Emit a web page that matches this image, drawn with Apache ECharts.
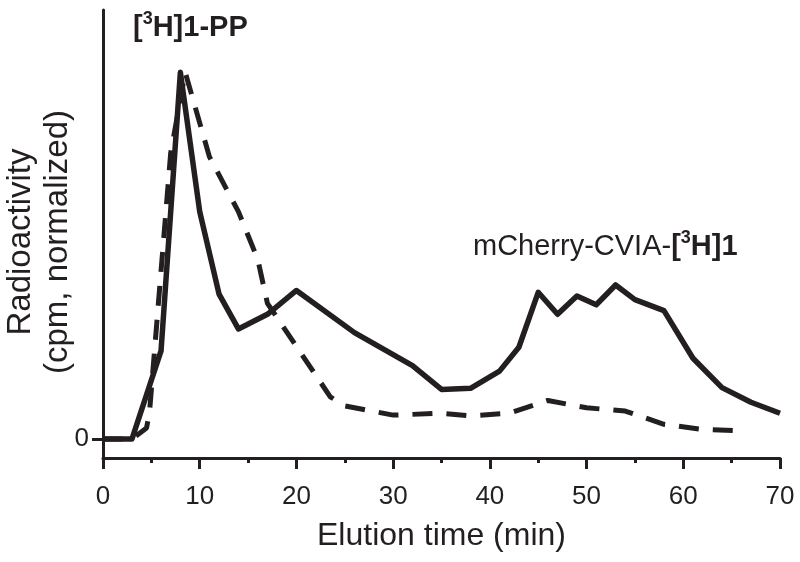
<!DOCTYPE html>
<html>
<head>
<meta charset="utf-8">
<script src="https://cdn.jsdelivr.net/npm/echarts@6/dist/echarts.min.js"></script>
<style>html,body{margin:0;padding:0;background:#fff}#c{width:800px;height:562px}</style>
</head>
<body>
<div id="c"></div>
<script>
// Elution time (min) and normalized radioactivity
const solidTime = [0, 3, 4.5, 6, 8, 10, 12, 14, 17, 20, 26, 32, 35, 38, 41, 43, 45, 47, 49, 51, 53, 55, 58, 61, 64, 67, 70];
const solidVal  = [0, 0, 0.12, 0.24, 1.0, 0.62, 0.395, 0.30, 0.34, 0.405, 0.29, 0.20, 0.135, 0.138, 0.185, 0.25, 0.40, 0.34, 0.39, 0.366, 0.42, 0.38, 0.35, 0.22, 0.14, 0.10, 0.07];
const dashTime = [0, 3, 4.5, 4.8, 7, 8.5, 11, 14, 16, 17, 23.5, 25, 30, 35, 38, 42, 46, 50, 54, 58, 62, 66];
const dashVal  = [0, 0, 0.03, 0.07, 0.78, 1.0, 0.77, 0.62, 0.49, 0.37, 0.115, 0.09, 0.065, 0.07, 0.063, 0.07, 0.105, 0.085, 0.076, 0.04, 0.026, 0.022];
const xTicks = [0, 10, 20, 30, 40, 50, 60, 70];
const yTicks = [0];
const xTitle = 'Elution time (min)';
const yTitle = 'Radioactivity\n(cpm, normalized)';

const ink = '#231f20';
const font = '"Liberation Sans", Arial, Helvetica, sans-serif';
const chart = echarts.init(document.getElementById('c'), null, {renderer: 'canvas'});
chart.setOption({
  animation: false,
  backgroundColor: '#fff',
  textStyle: {fontFamily: font, color: ink},
  grid: {left: 103, right: 20, top: 10, bottom: 104, containLabel: false, outerBoundsMode: 'none'},
  xAxis: {
    type: 'value', min: 0, max: 70, interval: 10,
    axisLine: {show: true, onZero: false, lineStyle: {color: ink, width: 3}},
    axisTick: {show: true, length: 11, lineStyle: {color: ink, width: 3}},
    minorTick: {show: true, splitNumber: 2, length: 5, lineStyle: {color: ink, width: 3}},
    splitLine: {show: false},
    axisLabel: {fontSize: 26, color: ink, margin: 26, fontFamily: font,
      customValues: xTicks, hideOverlap: false, showMaxLabel: true, showMinLabel: true},
    name: xTitle, nameLocation: 'middle', nameGap: 62,
    nameTextStyle: {fontSize: 32, color: ink, fontFamily: font}
  },
  yAxis: {
    type: 'value', min: -0.052, max: 1.17,
    axisLine: {show: true, onZero: false, lineStyle: {color: ink, width: 3}},
    axisTick: {show: true, length: 11, customValues: yTicks, lineStyle: {color: ink, width: 3}},
    splitLine: {show: false},
    axisLabel: {fontSize: 26, color: ink, margin: 14, fontFamily: font, customValues: yTicks}
  },
  series: [
    {
      type: 'line', name: 'solid', showSymbol: false, symbol: 'none',
      data: solidTime.map((t, i) => [t, solidVal[i]]),
      lineStyle: {color: ink, width: 5.5, join: 'round'}, z: 3
    },
    {
      type: 'line', name: 'dashed', showSymbol: false, symbol: 'none',
      data: dashTime.map((t, i) => [t, dashVal[i]]),
      lineStyle: {color: ink, width: 5, type: [20, 14]}, z: 2
    }
  ],
  graphic: [
    {
      type: 'text', x: 39, y: 242, rotation: Math.PI / 2,
      style: {
        text: yTitle, fill: ink, fontSize: 33, fontFamily: font, lineHeight: 37,
        align: 'center', verticalAlign: 'middle'
      }
    },
    {
      type: 'text', left: 133, top: 10,
      style: {
        text: '{b|[}{s|3}{b|H]1-PP}',
        rich: {
          b: {fontSize: 29, fontWeight: 'bold', fill: ink, fontFamily: font, lineHeight: 32, verticalAlign: 'bottom'},
          s: {fontSize: 18, fontWeight: 'bold', fill: ink, fontFamily: font, lineHeight: 18, verticalAlign: 'top'}
        }
      }
    },
    {
      type: 'text', left: 473, top: 229,
      style: {
        text: '{n|mCherry-CVIA-}{b|[}{s|3}{b|H]1}',
        rich: {
          n: {fontSize: 29, fill: ink, fontFamily: font, lineHeight: 32, verticalAlign: 'bottom'},
          b: {fontSize: 29, fontWeight: 'bold', fill: ink, fontFamily: font, lineHeight: 32, verticalAlign: 'bottom'},
          s: {fontSize: 18, fontWeight: 'bold', fill: ink, fontFamily: font, lineHeight: 18, verticalAlign: 'top'}
        }
      }
    }
  ]
});
</script>
</body>
</html>
